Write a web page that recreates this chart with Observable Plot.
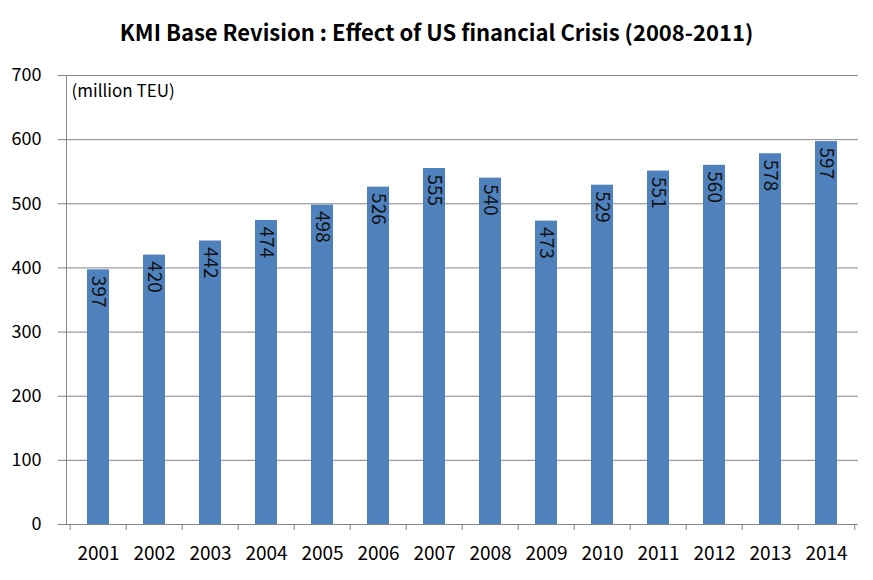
<!DOCTYPE html>
<html>
<head>
<meta charset="utf-8">
<script src="https://cdn.jsdelivr.net/npm/d3@7"></script>
<script src="https://cdn.jsdelivr.net/npm/@observablehq/plot@0.6"></script>
<style>
  body { margin: 0; background: #fff; font-family: "Noto Sans CJK KR", "Noto Sans", sans-serif; }
  #title { height: 58px; line-height: 62px; text-align: center; font-weight: bold; font-size: 22px; color: #000; }
</style>
</head>
<body>
<div id="title">KMI Base Revision : Effect of US financial Crisis (2008-2011)</div>
<div id="chart"></div>
<script>
const years = ["2001","2002","2003","2004","2005","2006","2007","2008","2009","2010","2011","2012","2013","2014"];
const values = [397, 420, 442, 474, 498, 526, 555, 540, 473, 529, 551, 560, 578, 597];
const yTicks = [0, 100, 200, 300, 400, 500, 600, 700];
const unitLabel = "(million TEU)";

const data = years.map((y, i) => ({year: y, value: values[i]}));
const W = 873, mL = 66, mR = 15;
const step = (W - mL - mR) / years.length;

const chart = Plot.plot({
  width: W,
  height: 522,
  marginTop: 17,
  marginBottom: 56,
  marginLeft: mL,
  marginRight: mR,
  style: {fontFamily: "'Noto Sans CJK KR', 'Noto Sans', sans-serif", fontSize: "18px", color: "#000", background: "#fff"},
  x: {domain: years, paddingInner: 0.61, paddingOuter: 0.305, axis: null},
  y: {domain: [0, 700], axis: null},
  marks: [
    Plot.ruleY(yTicks.filter(d => d > 0), {stroke: "#868686", strokeWidth: 1}),
    Plot.axisY({ticks: yTicks, tickSize: 8, tickPadding: 17, stroke: "#868686", strokeOpacity: 1, fill: "#000", fontSize: 18, label: null}),
    Plot.barY(data, {x: "year", y: "value", fill: "#4F81BD"}),
    Plot.text(data, {x: "year", y: "value", text: d => String(d.value), rotate: 90, textAnchor: "start", lineAnchor: "middle", dy: 6, fontSize: 19, fill: "#111"}),
    Plot.frame({anchor: "left", stroke: "#868686"}),
    Plot.ruleY([0], {stroke: "#868686"}),
    Plot.axisX({tickSize: 6, dx: -step / 2, tickFormat: () => "", stroke: "#868686", strokeOpacity: 1, label: null}),
    Plot.axisX({ticks: [years[years.length - 1]], tickSize: 6, dx: step / 2, tickFormat: () => "", stroke: "#868686", strokeOpacity: 1, label: null}),
    Plot.axisX({tickSize: 0, tickPadding: 22, fill: "#000", fontSize: 19, label: null}),
    Plot.text([unitLabel], {frameAnchor: "top-left", dx: 5, dy: 9, fontSize: 17, fill: "#000", textAnchor: "start", lineAnchor: "top"})
  ]
});
document.getElementById("chart").appendChild(chart);
</script>
</body>
</html>
